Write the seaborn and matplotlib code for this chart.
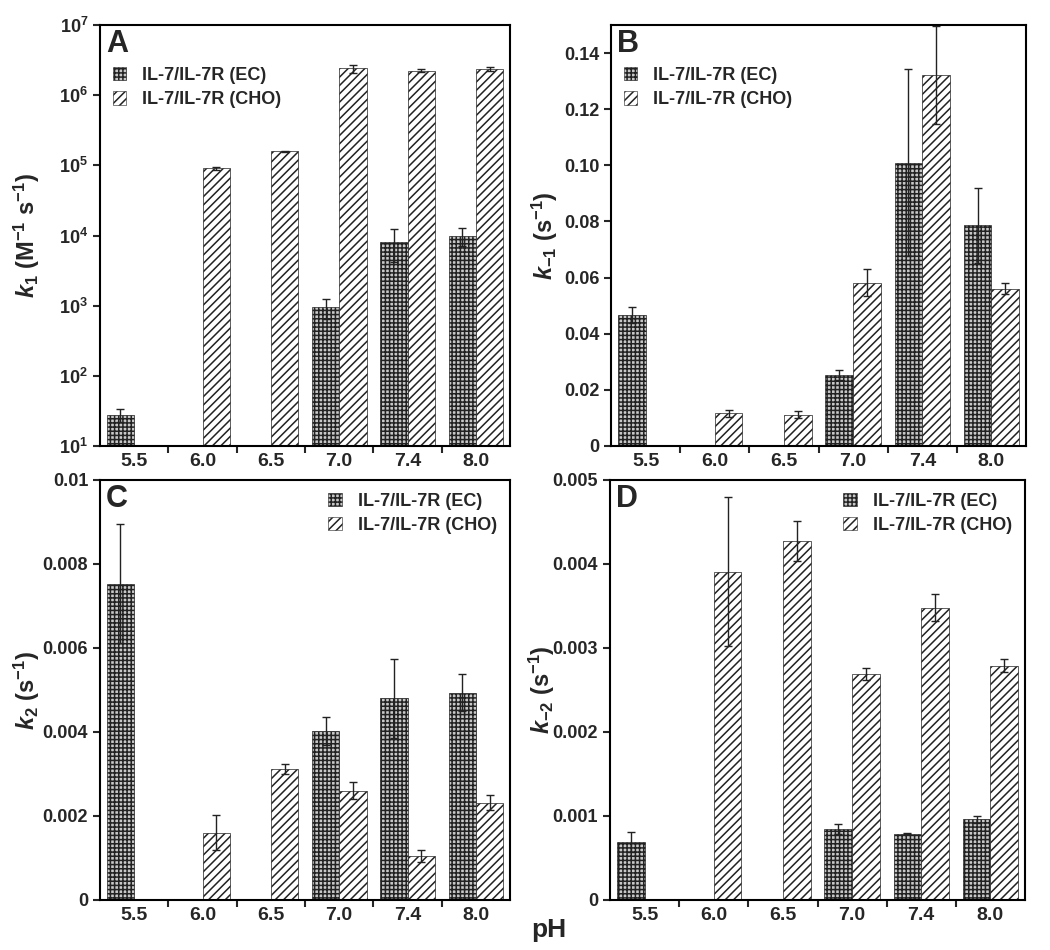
import numpy as np
import pandas as pd
import matplotlib
matplotlib.use("Agg")
import matplotlib.pyplot as plt
from matplotlib.patches import Patch
from matplotlib.ticker import FixedLocator, FuncFormatter, LogLocator, NullLocator
import seaborn as sns

sns.set_style("white")
plt.rcParams['font.family'] = ['Liberation Sans', 'DejaVu Sans']
plt.rcParams['font.weight'] = 'bold'
plt.rcParams['mathtext.fontset'] = 'custom'
plt.rcParams['mathtext.rm'] = 'Liberation Sans:bold'
plt.rcParams['mathtext.bf'] = 'Liberation Sans:bold'
plt.rcParams['mathtext.it'] = 'Liberation Sans:bold:italic'
plt.rcParams['hatch.linewidth'] = 1.1

# ---------------- data ----------------
ph_labels = ['5.5', '6.0', '6.5', '7.0', '7.4', '8.0']
series_names = ['IL-7/IL-7R (EC)', 'IL-7/IL-7R (CHO)']
nan = np.nan

# Panel A: k1 (M^-1 s^-1)
k1_ec = [28, nan, nan, 950, 8200, 9900]
k1_ec_err = [6, nan, nan, 300, 4000, 2700]
k1_cho = [nan, 91000, 158000, 2.4e6, 2.23e6, 2.33e6]
k1_cho_err = [nan, 5000, 4000, 3.0e5, 1.0e5, 1.5e5]

# Panel B: k-1 (s^-1)
km1_ec = [0.0468, nan, nan, 0.0253, 0.1009, 0.0786]
km1_ec_err = [0.0028, nan, nan, 0.0018, 0.0333, 0.0134]
km1_cho = [nan, 0.0116, 0.0112, 0.0582, 0.1321, 0.0561]
km1_cho_err = [nan, 0.0014, 0.0013, 0.0048, 0.0174, 0.0021]

# Panel C: k2 (s^-1)
k2_ec = [0.00753, nan, nan, 0.00402, 0.00480, 0.00493]
k2_ec_err = [0.00142, nan, nan, 0.00034, 0.00095, 0.00044]
k2_cho = [nan, 0.00160, 0.00313, 0.00260, 0.00105, 0.00232]
k2_cho_err = [nan, 0.00042, 0.00012, 0.00020, 0.00014, 0.00018]

# Panel D: k-2 (s^-1)
km2_ec = [0.00069, nan, nan, 0.00084, 0.00079, 0.00096]
km2_ec_err = [0.000115, nan, nan, 0.00006, 0.00001, 0.00004]
km2_cho = [nan, 0.00391, 0.00427, 0.00269, 0.00348, 0.00279]
km2_cho_err = [nan, 0.00089, 0.00024, 0.00007, 0.00016, 0.000075]

panel_letters = ['A', 'B', 'C', 'D']
ylabels = [r'$k_{\mathit{1}}$ (M$^{-1}$ s$^{-1}$)',
           r'$k_{\mathit{-1}}$ (s$^{-1}$)',
           r'$k_2$ (s$^{-1}$)',
           r'$k_{-2}$ (s$^{-1}$)']

panels = [
    (k1_ec, k1_ec_err, k1_cho, k1_cho_err),
    (km1_ec, km1_ec_err, km1_cho, km1_cho_err),
    (k2_ec, k2_ec_err, k2_cho, k2_cho_err),
    (km2_ec, km2_ec_err, km2_cho, km2_cho_err),
]

yticks_list = [
    None,
    [0, 0.02, 0.04, 0.06, 0.08, 0.10, 0.12, 0.14],
    [0, 0.002, 0.004, 0.006, 0.008, 0.01],
    [0, 0.001, 0.002, 0.003, 0.004, 0.005],
]
ylims = [(10, 1e7), (0, 0.15), (0, 0.01), (0, 0.005)]
fmt_funcs = [
    None,
    lambda v, p: '0' if v == 0 else f'{v:.2f}',
    lambda v, p: '0' if v == 0 else ('0.01' if abs(v - 0.01) < 1e-9 else f'{v:.3f}'),
    lambda v, p: '0' if v == 0 else f'{v:.3f}',
]
label_x = [-0.141, -0.123, -0.141, -0.128]

hatches = ['++++', '////']
faces = ['#c8c8c8', 'white']

# ---------------- figure ----------------
fig = plt.figure(figsize=(10.5, 9.5), dpi=100)
W, H = 1050, 950
boxes = [(100, 25, 510, 446), (611, 25, 1026, 446),
         (100, 480, 510, 900), (610, 480, 1025, 900)]

for idx, (box, data) in enumerate(zip(boxes, panels)):
    l, t, r, b = box
    ax = fig.add_axes([l / W, 1 - b / H, (r - l) / W, (b - t) / H])
    ec, ec_err, cho, cho_err = data
    df = pd.DataFrame({
        'pH': ph_labels * 2,
        'series': [series_names[0]] * 6 + [series_names[1]] * 6,
        'value': list(ec) + list(cho),
        'err': list(ec_err) + list(cho_err),
    }).dropna()
    log = idx == 0
    sns.barplot(data=df, x='pH', y='value', hue='series', order=ph_labels,
                hue_order=series_names, palette=faces,
                width=0.8, legend=False, ax=ax,
                edgecolor='#333333', linewidth=0.5, errorbar=None)
    bar_conts = list(ax.containers)
    for hi, cont in enumerate(bar_conts):
        sub = df[df['series'] == series_names[hi]].set_index('pH')
        xs, ys, es = [], [], []
        for bar in cont:
            bar.set_hatch(hatches[hi])
            bar.set_facecolor(faces[hi])
            bar.set_edgecolor('#222222')
            xc = bar.get_x() + bar.get_width() / 2
            gi = int(round(xc))
            row = sub.loc[ph_labels[gi]]
            xs.append(xc)
            ys.append(row['value'])
            es.append(row['err'])
        ax.errorbar(xs, ys, yerr=es, fmt='none', ecolor='#222222',
                    elinewidth=1.0, capsize=3, capthick=1.0, zorder=5)

    if log:
        ax.set_yscale('log')
    ax.set_xlim(-0.5, 5.5)
    ax.set_ylim(*ylims[idx])
    if log:
        ax.yaxis.set_major_locator(LogLocator(base=10, numticks=10))
        ax.yaxis.set_minor_locator(NullLocator())
    else:
        ax.yaxis.set_major_locator(FixedLocator(yticks_list[idx]))
        ax.yaxis.set_major_formatter(FuncFormatter(fmt_funcs[idx]))
        ax.yaxis.set_minor_locator(NullLocator())

    ax.set_xticks(range(6))
    ax.set_xticklabels(ph_labels, fontsize=14, fontweight='bold')
    ax.set_xticks(np.arange(0.5, 5.0, 1.0), minor=True)
    ax.tick_params(axis='x', which='major', length=0, pad=5)
    ax.tick_params(axis='x', which='minor', direction='out', length=5, width=1.5,
                   bottom=True)
    ax.tick_params(axis='y', which='major', direction='out', length=5, width=1.5,
                   labelsize=13, left=True)
    for lab in ax.get_yticklabels():
        lab.set_fontweight('bold')
    ax.set_xlabel('')
    ax.set_ylabel(ylabels[idx], fontsize=17, fontweight='bold')
    ax.yaxis.set_label_coords(label_x[idx], 0.5)
    for sp in ax.spines.values():
        sp.set_linewidth(1.5)
        sp.set_color('black')

    ax.text(0.015, 0.99, panel_letters[idx], transform=ax.transAxes,
            fontsize=22, fontweight='bold', va='top', ha='left')

    handles = [Patch(facecolor=faces[i], edgecolor='#222222', hatch=hatches[i],
                     linewidth=0.4, label=series_names[i]) for i in range(2)]
    if idx < 2:
        leg = ax.legend(handles=handles, loc='upper left',
                        bbox_to_anchor=(0.0, 0.93), frameon=False,
                        fontsize=13, handlelength=0.75, handleheight=0.75,
                        handletextpad=0.9, labelspacing=0.4, borderaxespad=0.3)
    else:
        leg = ax.legend(handles=handles, loc='upper right',
                        bbox_to_anchor=(1.0, 1.0), frameon=False,
                        fontsize=13, handlelength=0.75, handleheight=0.75,
                        handletextpad=0.9, labelspacing=0.4, borderaxespad=0.3)
    for txt in leg.get_texts():
        txt.set_fontweight('bold')

fig.text(549 / W, 1 - 930 / H, 'pH', fontsize=19, fontweight='bold',
         ha='center', va='center')

fig.savefig('out.png', dpi=100)
